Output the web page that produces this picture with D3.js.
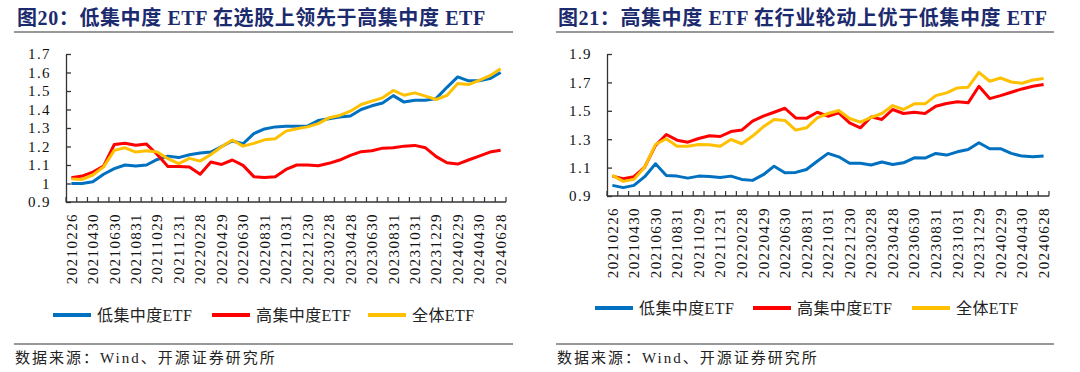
<!DOCTYPE html>
<html lang="zh">
<head>
<meta charset="UTF-8">
<title>ETF 集中度对比</title>
<script src="https://cdnjs.cloudflare.com/ajax/libs/d3/7.8.5/d3.min.js"></script>
<style>
    body { margin: 0; background: #fff; }
    svg { display: block; font-family: "Liberation Serif", "Noto Sans CJK SC", serif; }
</style>
</head>
<body>
<svg id="chart" width="1080" height="372"></svg>
<script>
// month-end dates (x categories)
const dates = [
    "20210226","20210331","20210430","20210531","20210630","20210730","20210831","20210930",
    "20211029","20211130","20211231","20220128","20220228","20220331","20220429","20220531",
    "20220630","20220729","20220831","20220930","20221031","20221130","20221230","20230131",
    "20230228","20230331","20230428","20230531","20230630","20230731","20230831","20230928",
    "20231031","20231130","20231229","20240131","20240229","20240329","20240430","20240531",
    "20240628"
];
const labelDates = dates.filter((d, i) => i % 2 === 0);

const seriesNames = ["低集中度ETF", "高集中度ETF", "全体ETF"];
const seriesColors = ["#0070C0", "#FF0000", "#FFC000"];

// 图20
const leftLow = [1.00,1.00,1.01,1.05,1.08,1.10,1.095,1.10,1.13,1.148,1.14,1.155,1.165,1.17,1.20,1.23,1.215,1.27,1.295,1.306,
    1.31,1.31,1.31,1.34,1.35,1.36,1.365,1.40,1.42,1.435,1.475,1.44,1.45,1.45,1.46,1.52,1.576,1.555,1.555,1.567,1.60];
const leftHigh = [1.031,1.04,1.062,1.094,1.211,1.218,1.207,1.213,1.157,1.092,1.092,1.089,1.05,1.116,1.103,1.127,1.098,1.037,1.033,1.037,
    1.076,1.10,1.10,1.096,1.109,1.127,1.152,1.172,1.177,1.191,1.193,1.202,1.206,1.193,1.145,1.112,1.105,1.127,1.148,1.17,1.18];
const leftAll = [1.025,1.022,1.046,1.09,1.179,1.193,1.17,1.177,1.17,1.134,1.107,1.136,1.121,1.157,1.199,1.235,1.202,1.217,1.236,1.242,
    1.283,1.296,1.306,1.324,1.355,1.368,1.391,1.427,1.445,1.463,1.503,1.477,1.49,1.472,1.454,1.476,1.54,1.535,1.558,1.583,1.62];
const leftTicks = [0.9, 1.0, 1.1, 1.2, 1.3, 1.4, 1.5, 1.6, 1.7];

// 图21
const rightLow = [0.975,0.959,0.975,1.036,1.127,1.045,1.04,1.026,1.04,1.038,1.031,1.04,1.017,1.01,1.05,1.11,1.064,1.066,1.087,1.145,
    1.20,1.176,1.13,1.13,1.118,1.139,1.122,1.134,1.169,1.167,1.20,1.188,1.211,1.228,1.275,1.233,1.233,1.20,1.181,1.176,1.181];
const rightHigh = [1.04,1.022,1.036,1.104,1.256,1.333,1.293,1.279,1.305,1.324,1.319,1.354,1.364,1.427,1.462,1.49,1.518,1.45,1.447,1.49,
    1.462,1.485,1.415,1.38,1.457,1.439,1.509,1.481,1.49,1.481,1.532,1.551,1.563,1.556,1.673,1.586,1.607,1.631,1.654,1.673,1.685];
const rightAll = [1.045,1.003,1.017,1.104,1.263,1.303,1.251,1.251,1.263,1.261,1.251,1.298,1.268,1.322,1.387,1.439,1.432,1.364,1.38,1.45,
    1.481,1.502,1.446,1.42,1.453,1.481,1.537,1.509,1.549,1.549,1.607,1.626,1.661,1.666,1.771,1.708,1.731,1.703,1.694,1.717,1.727];
const rightTicks = [0.9, 1.1, 1.3, 1.5, 1.7, 1.9];

const sourceText = "数据来源：Wind、开源证券研究所";

const panels = [
    {
        title: "图20：低集中度 ETF 在选股上领先于高集中度 ETF",
        titleX: 17, ruleX: [14, 513],
        plot: { x0: 66, x1: 506, y0: 54, y1: 202 },
        domain: [0.9, 1.7], ticks: leftTicks,
        series: [leftLow, leftHigh, leftAll],
        legendY: 315, legendX: [53, 212, 368]
    },
    {
        title: "图21：高集中度 ETF 在行业轮动上优于低集中度 ETF",
        titleX: 558, ruleX: [556, 1054],
        plot: { x0: 607, x1: 1049, y0: 54, y1: 196 },
        domain: [0.9, 1.9], ticks: rightTicks,
        series: [rightLow, rightHigh, rightAll],
        legendY: 308, legendX: [595, 753, 912]
    }
];

const svg = d3.select("#chart");
const axisColor = "#333";

function drawPanel(p) {
    const g = svg.append("g");

    // title + rule
    g.append("text")
        .attr("x", p.titleX).attr("y", 25)
        .attr("fill", "#1c2a6e")
        .attr("font-size", 20).attr("font-weight", "bold")
        .attr("letter-spacing", 0.6)
        .text(p.title);
    g.append("line")
        .attr("x1", p.ruleX[0]).attr("x2", p.ruleX[1])
        .attr("y1", 32).attr("y2", 32)
        .attr("stroke", axisColor).attr("stroke-width", 1.2);

    const xBand = d3.scaleBand().domain(dates).range([p.plot.x0, p.plot.x1]);
    const xPoint = d3.scalePoint().domain(dates).range([p.plot.x0, p.plot.x1]).padding(0.5);
    const y = d3.scaleLinear().domain(p.domain).range([p.plot.y1, p.plot.y0]);

    // y axis
    const yAxis = d3.axisLeft(y)
        .tickValues(p.ticks)
        .tickSizeInner(-5).tickSizeOuter(0).tickPadding(15)
        .tickFormat(d => Math.abs(d - 1) < 1e-9 ? "1" : d3.format(".1f")(d));
    const gy = g.append("g")
        .attr("transform", `translate(${p.plot.x0},0)`)
        .call(yAxis);
    gy.selectAll("path, line").attr("stroke", axisColor).attr("stroke-width", 1.3);
    gy.selectAll("text")
        .attr("fill", "#111").attr("font-size", 15)
        .attr("font-family", "Liberation Serif").attr("letter-spacing", 1.4);

    // x axis line
    g.append("line")
        .attr("x1", p.plot.x0).attr("x2", p.plot.x1)
        .attr("y1", p.plot.y1).attr("y2", p.plot.y1)
        .attr("stroke", axisColor).attr("stroke-width", 1.3);

    // tick marks on category boundaries, pointing up
    const boundaries = dates.map(d => xBand(d)).concat([p.plot.x1]);
    g.append("g").selectAll("line")
        .data(boundaries)
        .join("line")
        .attr("x1", d => d).attr("x2", d => d)
        .attr("y1", p.plot.y1).attr("y2", p.plot.y1 - 5)
        .attr("stroke", axisColor).attr("stroke-width", 1.2);

    // rotated date labels
    g.append("g").selectAll("text")
        .data(labelDates)
        .join("text")
        .attr("transform", d => `translate(${xPoint(d)},${p.plot.y1}) rotate(-90)`)
        .attr("x", -11).attr("dy", "0.35em")
        .attr("text-anchor", "end")
        .attr("fill", "#111").attr("font-size", 15)
        .attr("font-family", "Liberation Serif").attr("letter-spacing", 1.4)
        .text(d => d);

    // lines
    const line = d3.line()
        .x((d, i) => xPoint(dates[i]))
        .y(d => y(d));
    p.series.forEach((s, k) => {
        g.append("path")
            .datum(s)
            .attr("fill", "none")
            .attr("stroke", seriesColors[k])
            .attr("stroke-width", 3)
            .attr("stroke-linejoin", "round")
            .attr("d", line);
    });

    // legend
    seriesNames.forEach((name, k) => {
        const lx = p.legendX[k];
        g.append("line")
            .attr("x1", lx).attr("x2", lx + 38)
            .attr("y1", p.legendY).attr("y2", p.legendY)
            .attr("stroke", seriesColors[k]).attr("stroke-width", 4);
        g.append("text")
            .attr("x", lx + 44).attr("y", p.legendY).attr("dy", "0.36em")
            .attr("fill", "#222").attr("font-size", 16)
            .attr("letter-spacing", 0.4)
            .text(name);
    });

    // source
    g.append("line")
        .attr("x1", p.ruleX[0]).attr("x2", p.ruleX[1])
        .attr("y1", 344).attr("y2", 344)
        .attr("stroke", axisColor).attr("stroke-width", 1.2);
    g.append("text")
        .attr("x", p.ruleX[0] + 1).attr("y", 363)
        .attr("fill", "#222").attr("font-size", 15)
        .attr("letter-spacing", 2)
        .text(sourceText);
}

panels.forEach(drawPanel);
</script>
</body>
</html>
